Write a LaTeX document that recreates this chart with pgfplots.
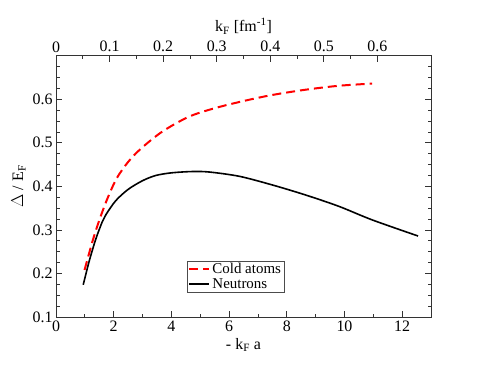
\documentclass[border=0pt]{standalone}
\usepackage{fontspec}
\setmainfont{Liberation Serif}
\usepackage{pgfplots}
\pgfplotsset{compat=1.18}
\begin{document}
\begin{tikzpicture}[x=1bp,y=1bp]
\useasboundingbox (0,0) rectangle (485,374);
\begin{axis}[
  at={(56bp,57bp)}, anchor=south west, scale only axis,
  width=375bp, height=261.3bp,
  xmin=0, xmax=13, ymin=0.1, ymax=0.7,
  xtick={0,2,4,6,8,10,12}, minor x tick num=1,
  ytick={0.1,0.2,0.3,0.4,0.5,0.6},
  minor ytick={0.125,0.15,0.175,0.225,0.25,0.275,0.325,0.35,0.375,0.425,0.45,0.475,0.525,0.55,0.575,0.625,0.65,0.675},
  xtick pos=left, ytick pos=both, yticklabel pos=left,
  tick align=inside,
  major tick length=6bp, minor tick length=3.5bp,
  axis line style={line width=0.8bp, black!80},
  every tick/.style={black!80, line width=0.8bp},
  /pgf/number format/assume math mode=true,
  yticklabel style={/pgf/number format/fixed, /pgf/number format/precision=1, /pgf/number format/fixed zerofill},
  tick label style={font=\fontsize{16}{18}\selectfont},
  label style={font=\fontsize{16}{18}\selectfont},
  xlabel={- k\textsubscript{F} a},
  ylabel={$\Delta$ / E\textsubscript{F}},
  legend style={at={(axis cs:4.54,0.229)}, anchor=north west, draw=black!70, line width=0.6bp,
    font=\fontsize{15}{16}\selectfont, inner sep=1.2bp, row sep=1.5bp,
    nodes={text height=9bp, text depth=0.5bp}, cells={anchor=west}},
  legend cell align=left,
  legend image code/.code={\draw[#1] (0bp,0bp) -- (20bp,0bp);},
]
\addplot[red, line width=2bp, dash pattern=on 9bp off 5bp, smooth, tension=0.5] coordinates {
(0.99,0.208) (1.27,0.275) (1.5,0.322) (1.77,0.370) (2.1,0.418) (2.5,0.456) (2.95,0.487)
(3.69,0.526) (4.61,0.560) (5.53,0.580) (6.57,0.597) (7.51,0.610) (8.66,0.622)
(9.81,0.631) (10.96,0.636)};
\addlegendentry{Cold atoms}
\addplot[black, line width=1.6bp, smooth, tension=0.5] coordinates {
(0.944,0.174) (1.15,0.228) (1.38,0.279) (1.6,0.318) (1.73,0.335) (2.07,0.367) (2.5,0.393)
(3.0,0.413) (3.46,0.425) (4.0,0.431) (4.7,0.434) (5.3,0.433) (6.36,0.423) (7.51,0.403) (8.66,0.380)
(9.81,0.354) (10.96,0.323) (12.55,0.286)};
\addlegendentry{Neutrons}
\end{axis}
\begin{axis}[
  at={(56bp,57bp)}, anchor=south west, scale only axis,
  width=375bp, height=261.3bp,
  xmin=0, xmax=0.7, ymin=0, ymax=1,
  axis x line*=top, axis y line=none,
  x axis line style={-, line width=0.8bp, black!80},
  xtick={0,0.1,0.2,0.3,0.4,0.5,0.6}, minor x tick num=1,
  tick align=inside,
  major tick length=6bp, minor tick length=3.5bp,
  every tick/.style={black!80, line width=0.8bp},
  /pgf/number format/assume math mode=true,
  tick label style={font=\fontsize{16}{18}\selectfont},
  label style={font=\fontsize{16}{18}\selectfont},
  xlabel={k\textsubscript{F} [fm\textsuperscript{-1}]},
]
\end{axis}
\end{tikzpicture}
\end{document}
